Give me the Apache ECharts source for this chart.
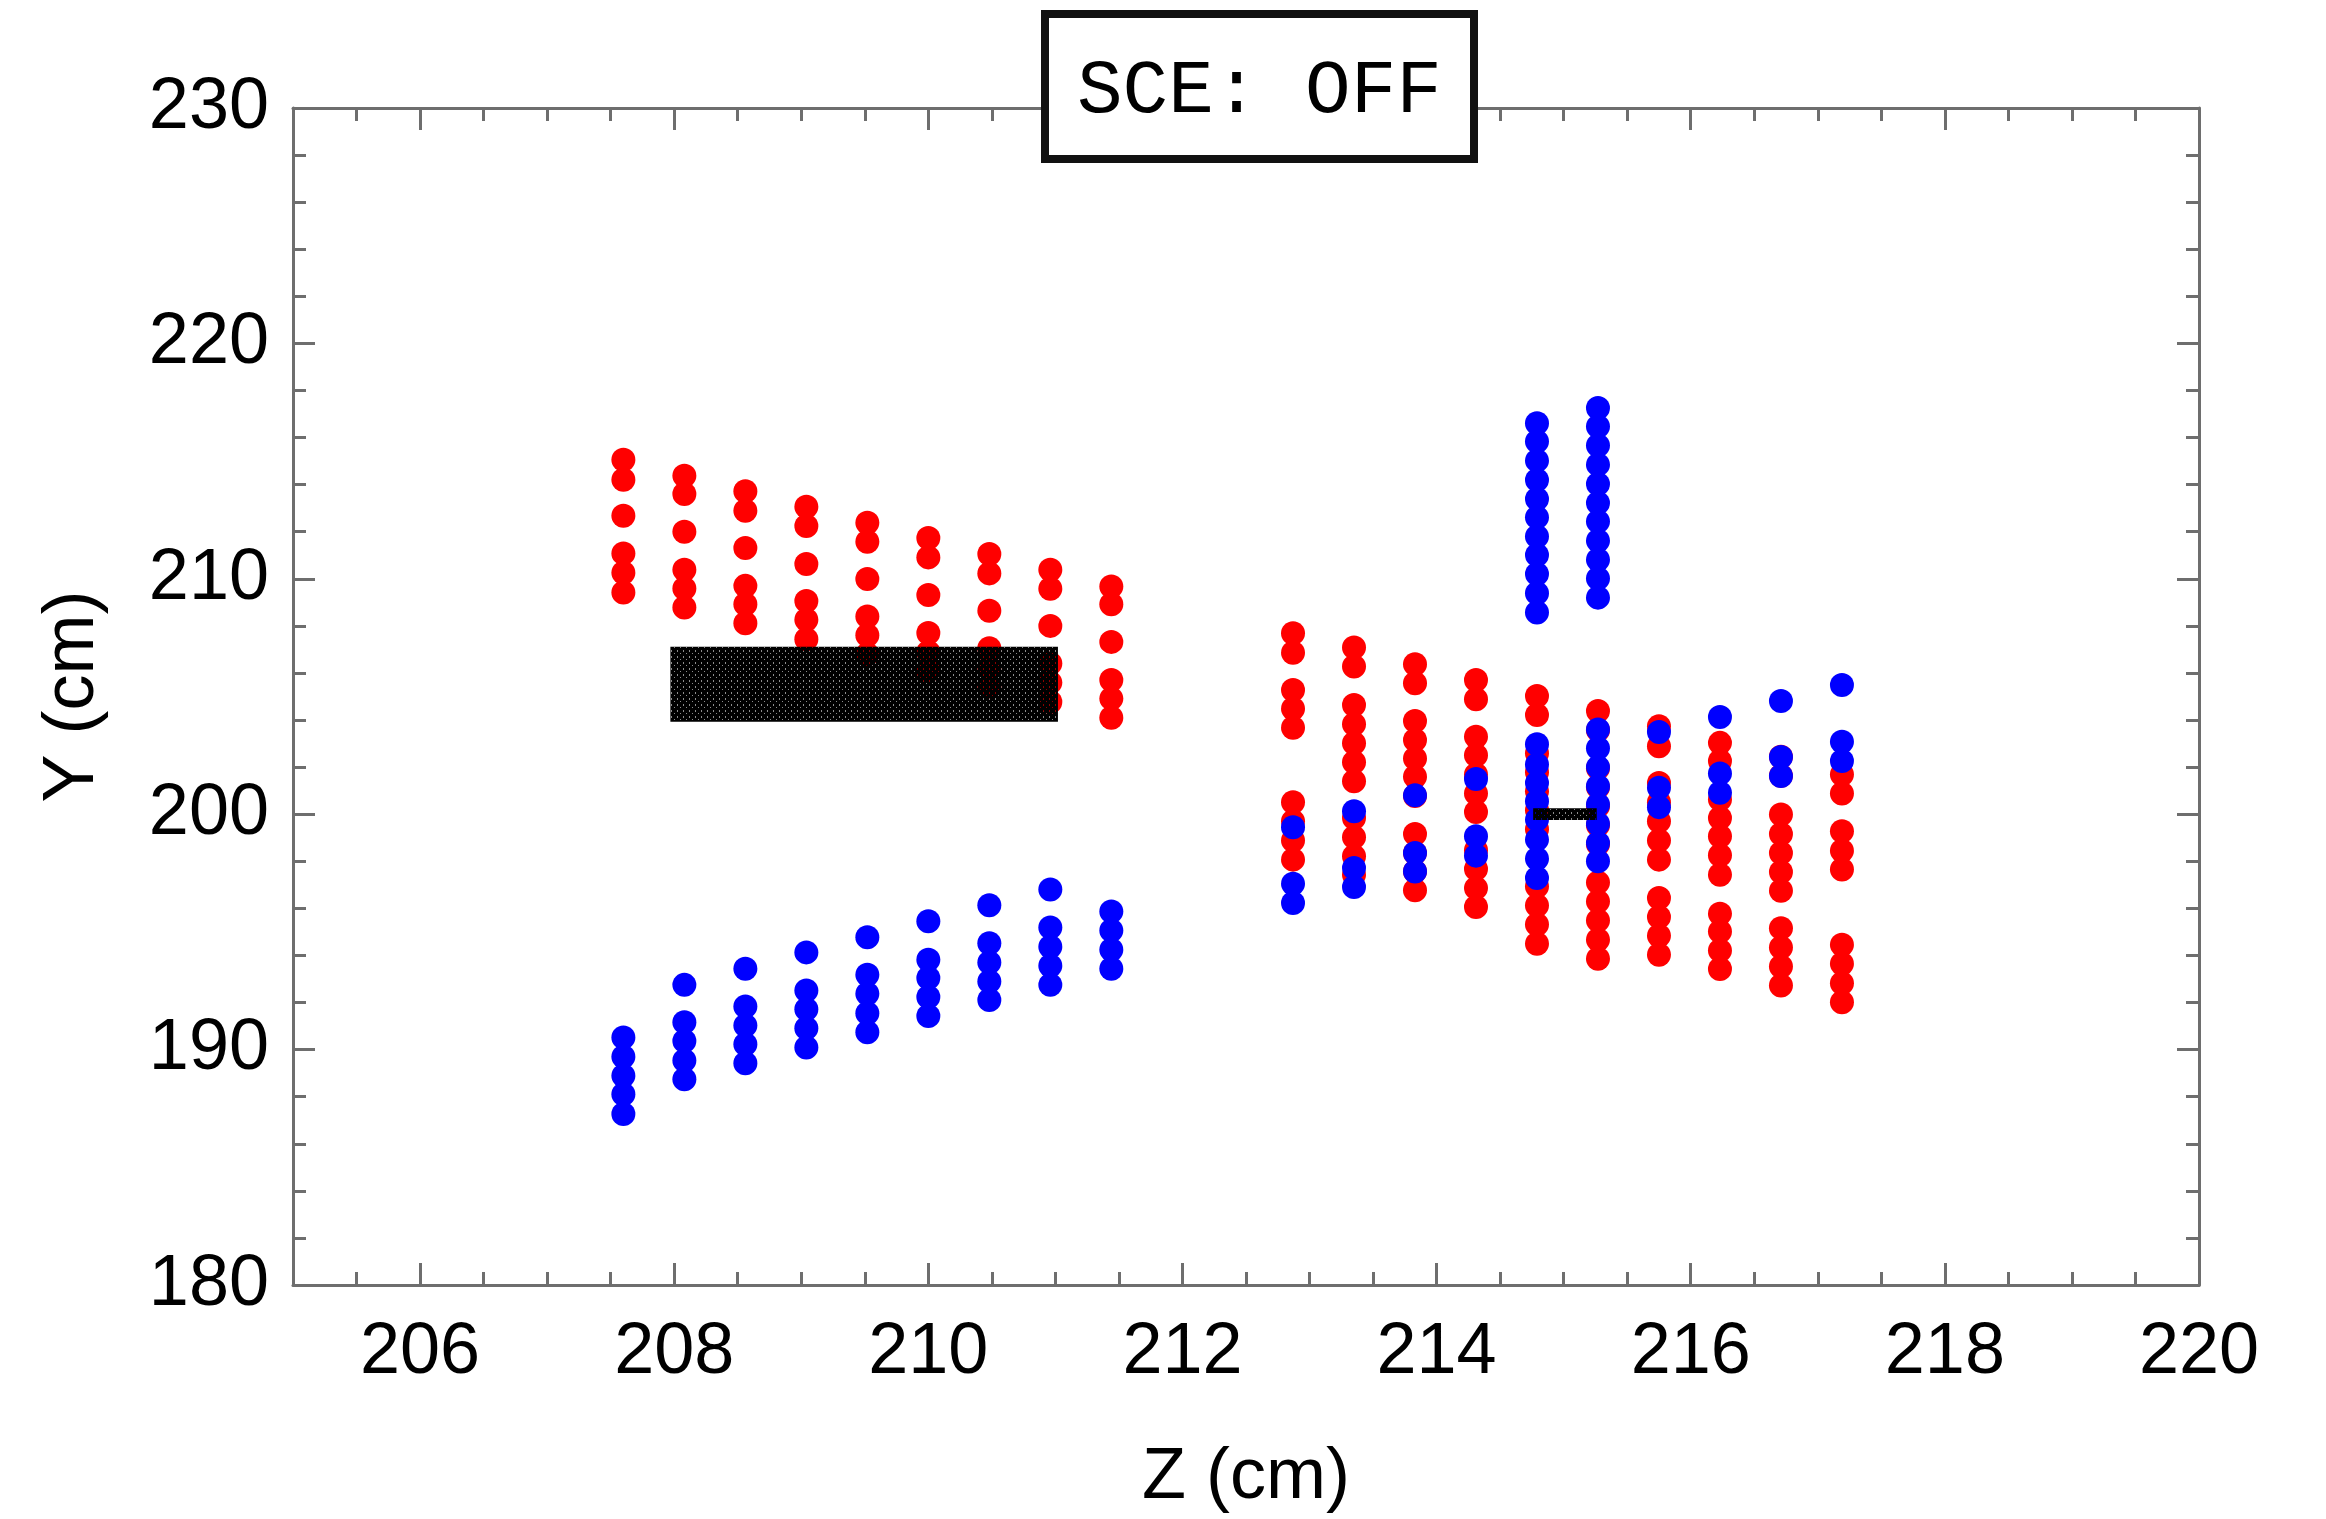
<!DOCTYPE html>
<html>
<head>
<meta charset="utf-8">
<script src="https://cdn.jsdelivr.net/npm/echarts@6/dist/echarts.min.js"></script>
<style>
  html, body { margin: 0; padding: 0; background: #ffffff; }
  #chart { width: 2326px; height: 1519px; }
</style>
</head>
<body>
<div id="chart"></div>
<script>
// ---------- data ----------
const leftZ = [207.60, 208.08, 208.56, 209.04, 209.52, 210.00, 210.48, 210.96, 211.44];
const leftRedY = [
  [215.06, 214.21, 212.68, 211.08, 210.26, 209.42],
  [214.38, 213.60, 212.00, 210.38, 209.59, 208.78],
  [213.72, 212.89, 211.31, 209.70, 208.92, 208.11],
  [213.06, 212.24, 210.63, 209.06, 208.26, 207.43],
  [212.38, 211.57, 209.99, 208.40, 207.60, 206.80],
  [211.73, 210.91, 209.31, 207.70, 206.89, 206.09],
  [211.05, 210.23, 208.64, 207.05, 206.23, 205.42],
  [210.38, 209.58, 208.00, 206.40, 205.59, 204.77],
  [209.67, 208.92, 207.32, 205.70, 204.91, 204.10]
];
const leftBlueY = [
  [190.51, 189.70, 188.89, 188.10, 187.26],
  [192.75, 191.16, 190.37, 189.54, 188.74],
  [193.43, 191.83, 191.02, 190.23, 189.42],
  [194.13, 192.51, 191.71, 190.91, 190.09],
  [194.77, 193.18, 192.37, 191.54, 190.74],
  [195.45, 193.82, 193.04, 192.23, 191.43],
  [196.13, 194.52, 193.70, 192.89, 192.11],
  [196.80, 195.19, 194.37, 193.56, 192.75],
  [195.87, 195.06, 194.24, 193.43]
];
const rightZ = [212.87, 213.35, 213.83, 214.31, 214.79, 215.27, 215.75, 216.23, 216.71, 217.19];
const rightRedY = [
  [207.69, 206.86, 205.28, 204.48, 203.67, 200.51, 199.70, 198.88, 198.07],
  [207.08, 206.27, 204.64, 203.82, 203.01, 202.21, 201.40, 199.84, 199.02, 198.21, 197.43],
  [206.37, 205.56, 203.96, 203.15, 202.37, 201.59, 200.77, 199.16, 198.35, 197.57, 196.77],
  [205.70, 204.88, 203.29, 202.50, 201.69, 200.88, 200.09, 198.47, 197.67, 196.86, 196.06],
  [205.02, 204.21, 202.59, 201.78, 200.97, 200.17, 199.36, 196.93, 196.12, 195.31, 194.50],
  [204.38, 203.57, 201.95, 201.14, 200.34, 199.53, 198.72, 197.10, 196.29, 195.48, 194.67, 193.86],
  [203.74, 202.89, 201.33, 200.51, 199.70, 198.88, 198.07, 196.44, 195.63, 194.84, 194.03],
  [203.03, 202.26, 200.62, 199.84, 199.06, 198.26, 197.43, 195.77, 195.02, 194.21, 193.42],
  [202.44, 201.63, 199.99, 199.16, 198.35, 197.54, 196.75, 195.16, 194.34, 193.53, 192.72],
  [201.69, 200.88, 199.28, 198.45, 197.65, 194.45, 193.65, 192.82, 192.01]
];
const rightBlueY = [
  [199.45, 197.05, 196.23],
  [200.13, 197.71, 196.91],
  [200.80, 198.35, 197.57],
  [201.50, 199.06, 198.24],
  [216.61, 215.83, 215.02, 214.20, 213.39, 212.61, 211.80, 211.01, 210.20, 209.39, 208.57,
   202.97, 202.11, 201.33, 200.55, 199.77, 198.92, 198.11, 197.29],
  [217.26, 216.47, 215.66, 214.85, 214.03, 213.22, 212.43, 211.62, 210.81, 210.01, 209.20,
   203.60, 202.80, 202.00, 201.19, 200.41, 199.59, 198.78, 198.00],
  [203.49, 201.12, 200.30],
  [204.13, 201.73, 200.91],
  [204.81, 202.43, 201.62],
  [205.49, 203.08, 202.26]
];
// black boxes: [zMin, zMax] and [yMin, yMax]
const boxZ = [[207.97, 211.02], [214.76, 215.26]];
const boxY = [[203.93, 207.11], [199.75, 200.25]];
// axis ticks
const xMajorTicks = [206, 208, 210, 212, 214, 216, 218, 220];
const titleText = 'SCE: OFF';

// ---------- build series data ----------
function columns(zs, ys) {
  const out = [];
  zs.forEach((z, i) => ys[i].forEach(y => out.push([z, y])));
  return out;
}
const redData = columns(leftZ, leftRedY).concat(columns(rightZ, rightRedY));
const blueData = columns(leftZ, leftBlueY).concat(columns(rightZ, rightBlueY));
const boxData = boxZ.map((z, i) => [z[0], z[1], boxY[i][0], boxY[i][1]]);

// mesh-like texture for the black boxes (small, partly transparent gaps)
const tile = document.createElement('canvas');
tile.width = 6; tile.height = 6;
(function () {
  const c = tile.getContext('2d');
  c.fillStyle = '#000000';
  c.fillRect(0, 0, 6, 6);
  c.clearRect(5, 2, 1, 2);
  c.clearRect(2, 5, 1, 1);
  c.fillStyle = 'rgba(0,0,0,0.45)';
  c.fillRect(5, 2, 1, 2);
  c.fillRect(2, 5, 1, 1);
})();

const axisColor = '#6e6e6e';
const font = 'Liberation Sans, Arial, sans-serif';
const lineStyle = { color: axisColor, width: 3 };

function xAxisBase(pos, withLabels) {
  return {
    type: 'value', position: pos, min: 205, max: 220, interval: 0.5,
    axisLine: { show: true, onZero: false, lineStyle },
    axisTick: { show: true, inside: true, length: 13, lineStyle },
    axisLabel: withLabels ? {
      show: true, color: '#000', fontSize: 72, fontFamily: font, margin: 32,
      formatter: v => (Math.abs(v % 2) < 1e-9 ? String(v) : '')
    } : { show: false },
    splitLine: { show: false },
    name: withLabels ? 'Z (cm)' : '',
    nameLocation: 'middle', nameGap: 157,
    nameTextStyle: { color: '#000', fontSize: 72, fontFamily: font }
  };
}
function xAxisMajor(pos) {
  return {
    type: 'value', position: pos, min: 205, max: 220,
    axisLine: { show: false },
    axisTick: { show: true, inside: true, length: 22, lineStyle, customValues: xMajorTicks },
    axisLabel: { show: false },
    splitLine: { show: false }
  };
}
function yAxisBase(pos, withLabels) {
  return {
    type: 'value', position: pos, min: 180, max: 230, interval: 10,
    axisLine: { show: true, onZero: false, lineStyle },
    axisTick: { show: true, inside: true, length: 22, lineStyle },
    minorTick: { show: true, splitNumber: 5, length: 13, lineStyle },
    axisLabel: withLabels ? { show: true, color: '#000', fontSize: 72, fontFamily: font, margin: 24 } : { show: false },
    splitLine: { show: false },
    minorSplitLine: { show: false },
    name: withLabels ? 'Y (cm)' : '',
    nameLocation: 'middle', nameGap: 184,
    nameTextStyle: { color: '#000', fontSize: 72, fontFamily: font }
  };
}

const chart = echarts.init(document.getElementById('chart'), null, { renderer: 'canvas' });
chart.setOption({
  animation: false,
  backgroundColor: '#ffffff',
  title: {
    text: titleText,
    left: 1045, top: 14,
    padding: [33, 32, 22, 32],
    backgroundColor: '#ffffff',
    borderColor: '#111111', borderWidth: 8,
    textStyle: { color: '#000', fontSize: 76, fontWeight: 'normal', fontFamily: 'Liberation Mono, Courier New, monospace', lineHeight: 90 }
  },
  grid: { left: 293, right: 127, top: 108, bottom: 233, containLabel: false },
  xAxis: [xAxisBase('bottom', true), xAxisMajor('bottom'), xAxisBase('top', false), xAxisMajor('top')],
  yAxis: [yAxisBase('left', true), yAxisBase('right', false)],
  series: [
    { name: 'red', type: 'scatter', xAxisIndex: 0, yAxisIndex: 0, data: redData,
      symbol: 'circle', symbolSize: 24, itemStyle: { color: '#ff0000', opacity: 1 }, z: 2 },
    { name: 'blue', type: 'scatter', xAxisIndex: 0, yAxisIndex: 0, data: blueData,
      symbol: 'circle', symbolSize: 24, itemStyle: { color: '#0000ff', opacity: 1 }, z: 3 },
    { name: 'boxes', type: 'custom', xAxisIndex: 0, yAxisIndex: 0, data: boxData, z: 4, silent: true,
      encode: { x: [0, 1], y: [2, 3] },
      renderItem: (params, api) => {
        const p1 = api.coord([api.value(0), api.value(3)]);
        const p2 = api.coord([api.value(1), api.value(2)]);
        return { type: 'rect', shape: { x: p1[0], y: p1[1], width: p2[0] - p1[0], height: p2[1] - p1[1] },
                 style: { fill: { image: tile, repeat: 'repeat' } } };
      }
    }
  ]
});
</script>
</body>
</html>
